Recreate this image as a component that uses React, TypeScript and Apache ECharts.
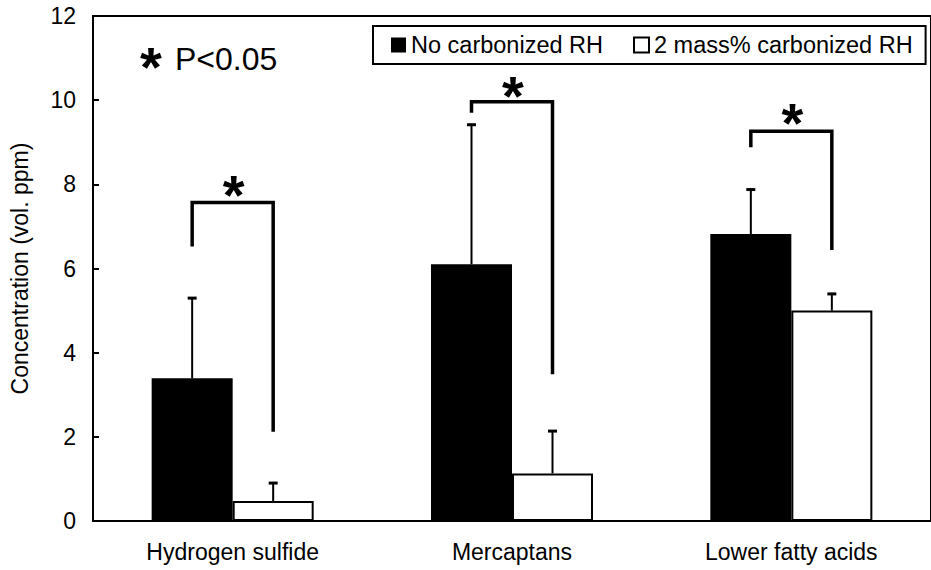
import React, { useEffect, useRef } from "react";
import * as echarts from "echarts";

// Odor component categories
const categories = ["Hydrogen sulfide", "Mercaptans", "Lower fatty acids"];

// Mean concentrations (vol. ppm) and standard deviations
const noCarbonizedMean = [3.39, 6.1, 6.82];
const noCarbonizedSD = [1.93, 3.34, 1.08];
const carbonizedMean = [0.475, 1.13, 5.0];
const carbonizedSD = [0.45, 1.03, 0.42];

// Significance brackets: left foot, top, right foot (vol. ppm), and star height
const bracketLeft = [6.52, 9.7, 8.88];
const bracketTop = [7.57, 9.96, 9.26];
const bracketRight = [2.12, 3.49, 6.44];
const starLevel = [8.03, 10.37, 9.74];

const yMin = 0;
const yMax = 12;
const yStep = 2;

const seriesNames = ["No carbonized RH", "2 mass% carbonized RH"];

const FONT = "'Liberation Sans', Arial, sans-serif";
const CATEGORY_GAP = 0.42;
const STAR_SIZE = 56;

export default function App() {
  const ref = useRef<HTMLDivElement>(null);

  useEffect(() => {
    if (!ref.current) return;
    const chart = echarts.init(ref.current, null, { renderer: "svg" });

    const halfBar = (api: any) => (api.size([1, 0])[0] * (1 - CATEGORY_GAP)) / 4;

    const errorData: number[][] = [];
    categories.forEach((_, i) => {
      errorData.push([i, noCarbonizedMean[i], noCarbonizedMean[i] + noCarbonizedSD[i], -1]);
      errorData.push([i, carbonizedMean[i], carbonizedMean[i] + carbonizedSD[i], 1]);
    });

    const bracketData = categories.map((_, i) => [i, bracketLeft[i], bracketTop[i], bracketRight[i]]);
    const starData = categories.map((_, i) => [i, starLevel[i]]);

    const option: any = {
      animation: false,
      backgroundColor: "#fff",
      grid: {
        left: 92,
        width: 847,
        top: 16,
        height: 505,
        show: true,
        borderColor: "#000",
        borderWidth: 2,
      },
      legend: {
        left: 373,
        top: 26,
        padding: [7, 13, 7, 18],
        itemGap: 30,
        itemWidth: 15,
        itemHeight: 15,
        borderColor: "#000",
        borderWidth: 2,
        borderRadius: 0,
        textStyle: { fontFamily: FONT, fontSize: 23.5, color: "#000" },
        data: [
          { name: seriesNames[0], icon: "rect", itemStyle: { color: "#000", borderWidth: 0 } },
          {
            name: seriesNames[1],
            icon: "rect",
            itemStyle: { color: "#fff", borderColor: "#000", borderWidth: 2 },
          },
        ],
      },
      xAxis: {
        type: "category",
        data: categories,
        boundaryGap: true,
        axisLine: { lineStyle: { color: "#000", width: 2 } },
        axisTick: { inside: true, length: 6, lineStyle: { color: "#000", width: 2 } },
        axisLabel: { color: "#000", fontFamily: FONT, fontSize: 23, margin: 19 },
      },
      yAxis: {
        type: "value",
        min: yMin,
        max: yMax,
        interval: yStep,
        name: "Concentration (vol. ppm)",
        nameLocation: "middle",
        nameGap: 62,
        nameTextStyle: { color: "#000", fontFamily: FONT, fontSize: 23 },
        axisLine: { show: true, lineStyle: { color: "#000", width: 2 } },
        axisTick: { show: true, inside: true, length: 6, lineStyle: { color: "#000", width: 2 } },
        axisLabel: { color: "#000", fontFamily: FONT, fontSize: 23, margin: 17 },
        splitLine: { show: false },
      },
      series: [
        {
          name: seriesNames[0],
          type: "bar",
          data: noCarbonizedMean,
          barGap: "0%",
          barCategoryGap: `${CATEGORY_GAP * 100}%`,
          itemStyle: { color: "#000" },
        },
        {
          name: seriesNames[1],
          type: "bar",
          data: carbonizedMean,
          barGap: "0%",
          barCategoryGap: `${CATEGORY_GAP * 100}%`,
          itemStyle: { color: "#fff", borderColor: "#000", borderWidth: 2 },
        },
        {
          name: "SD",
          type: "custom",
          data: errorData,
          z: 5,
          renderItem: (_params: any, api: any) => {
            const side = api.value(3);
            const base = api.coord([api.value(0), api.value(1)]);
            const top = api.coord([api.value(0), api.value(2)]);
            const x = base[0] + side * halfBar(api);
            return {
              type: "group",
              children: [
                {
                  type: "line",
                  shape: { x1: x, y1: base[1], x2: x, y2: top[1] },
                  style: { stroke: "#000", lineWidth: 2 },
                },
                {
                  type: "line",
                  shape: { x1: x - 4.5, y1: top[1] + 1, x2: x + 4.5, y2: top[1] + 1 },
                  style: { stroke: "#000", lineWidth: 3 },
                },
              ],
            };
          },
        },
        {
          name: "Significance",
          type: "custom",
          data: bracketData,
          z: 5,
          renderItem: (_params: any, api: any) => {
            const c = api.value(0);
            const hb = halfBar(api);
            const l = api.coord([c, api.value(1)]);
            const t = api.coord([c, api.value(2)]);
            const r = api.coord([c, api.value(3)]);
            return {
              type: "polyline",
              shape: {
                points: [
                  [l[0] - hb, l[1]],
                  [l[0] - hb, t[1]],
                  [r[0] + hb, t[1]],
                  [r[0] + hb, r[1]],
                ],
              },
              style: { stroke: "#000", lineWidth: 3.5, fill: "none", lineJoin: "miter" },
            };
          },
        },
        {
          name: "Stars",
          type: "custom",
          data: starData,
          z: 6,
          renderItem: (_params: any, api: any) => {
            const p = api.coord([api.value(0), api.value(1)]);
            return {
              type: "text",
              x: p[0] + 1,
              y: p[1] + 11,
              style: {
                text: "*",
                font: `bold ${STAR_SIZE}px ${FONT}`,
                fill: "#000",
                align: "center",
                verticalAlign: "middle",
              },
            };
          },
        },
      ],
      graphic: [
        {
          type: "text",
          left: 140,
          top: 38,
          style: { text: "*", font: `bold ${STAR_SIZE}px ${FONT}`, fill: "#000" },
        },
        {
          type: "text",
          left: 175,
          top: 43,
          style: { text: "P<0.05", font: `32px ${FONT}`, fill: "#000" },
        },
      ],
    };

    chart.setOption(option);
    return () => chart.dispose();
  }, []);

  return (
    <div
      ref={ref}
      style={{ position: "absolute", left: 0, top: 0, width: 931, height: 570 }}
    />
  );
}
